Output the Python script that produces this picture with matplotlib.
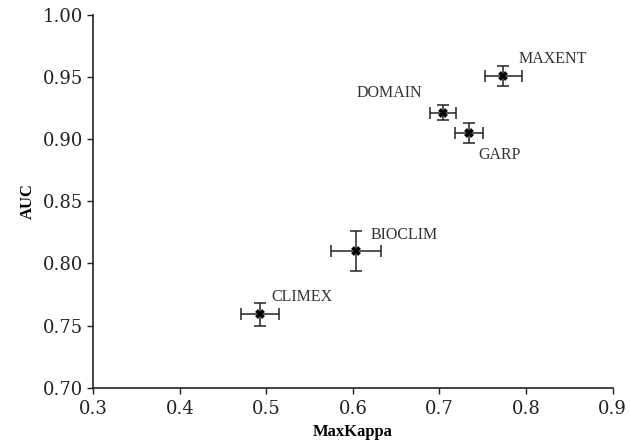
import matplotlib
matplotlib.use("Agg")
import matplotlib.pyplot as plt

# model performance: MaxKappa (x) vs AUC (y), with error bars
models = ["MAXENT", "DOMAIN", "GARP", "BIOCLIM", "CLIMEX"]
kappa = [0.774, 0.704, 0.734, 0.604, 0.493]
kappa_err = [0.021, 0.015, 0.016, 0.029, 0.022]
auc = [0.951, 0.921, 0.905, 0.810, 0.759]
auc_err = [0.008, 0.006, 0.008, 0.016, 0.009]

# label anchor (left edge, vertical centre) for each model
label_x = [0.791, 0.604, 0.745, 0.621, 0.506]
label_y = [0.964, 0.937, 0.887, 0.823, 0.773]

xticks = [0.3, 0.4, 0.5, 0.6, 0.7, 0.8, 0.9]
yticks = [0.70, 0.75, 0.80, 0.85, 0.90, 0.95, 1.00]

fig = plt.figure(figsize=(6.31, 4.43), dpi=100)
ax = fig.add_axes([0.1477, 0.1248, 0.823, 0.842])

ax.errorbar(kappa, auc, xerr=kappa_err, yerr=auc_err, fmt="none",
            ecolor="#222222", elinewidth=1.1, capsize=4, capthick=1.1)
ax.plot(kappa, auc, linestyle="none", marker="X", markersize=7,
        color="black", markeredgewidth=0)

for name, lx, ly in zip(models, label_x, label_y):
    ax.text(lx, ly, name, ha="left", va="center", fontsize=11.5,
            family="Liberation Serif", color="#333333")

ax.set_xlim(0.3, 0.9)
ax.set_ylim(0.70, 1.00)
ax.set_xticks(xticks)
ax.set_yticks(yticks)
ax.set_xticklabels([f"{v:.1f}" for v in xticks], family="DejaVu Serif", fontsize=13)
ax.set_yticklabels([f"{v:.2f}" for v in yticks], family="DejaVu Serif", fontsize=13)
ax.tick_params(axis="x", pad=5)
ax.tick_params(direction="out", length=4, width=1, colors="#222222")

for side in ("top", "right"):
    ax.spines[side].set_visible(False)
for side in ("left", "bottom"):
    ax.spines[side].set_linewidth(1.2)
    ax.spines[side].set_color("#222222")

ax.set_xlabel("MaxKappa", family="Liberation Serif", fontsize=12, fontweight="bold", labelpad=4)
ax.set_ylabel("AUC", family="Liberation Serif", fontsize=12, fontweight="bold")
ax.yaxis.set_label_coords(-0.11, 0.5)

fig.savefig("out.png", dpi=100)
